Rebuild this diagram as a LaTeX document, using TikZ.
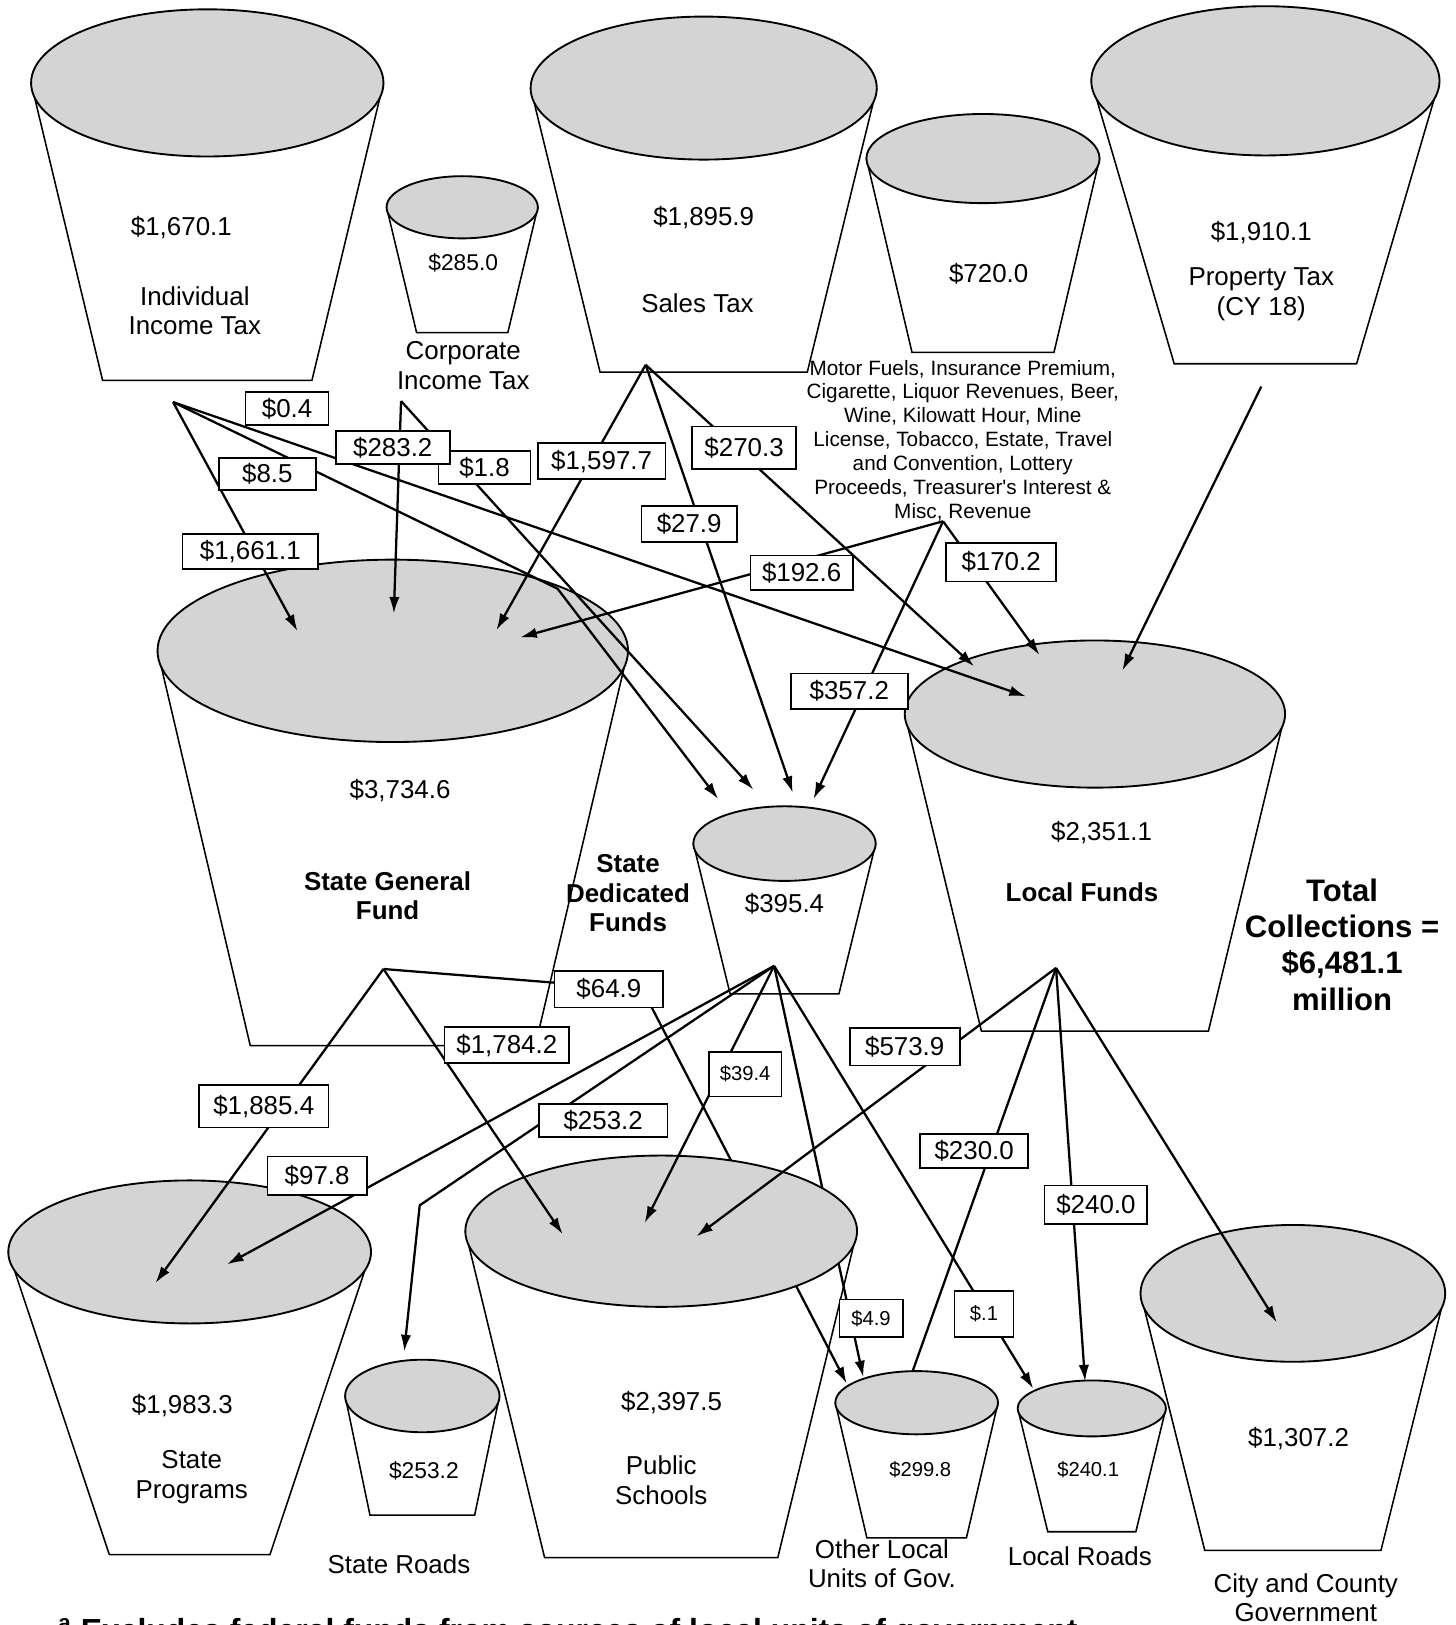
\documentclass[tikz,border=0pt]{standalone}
\usepackage{fontspec}
\setmainfont{Liberation Sans}
\usetikzlibrary{arrows.meta,shapes.geometric}
\definecolor{cupgray}{RGB}{212,212,212}
\tikzset{
  cupside/.style={line width=0.75pt},
  cuptop/.style={ellipse, draw, line width=0.9pt, fill=cupgray, inner sep=0pt, outer sep=0pt},
  conn/.style={line width=1.1pt},
  arr/.style={conn, -{Latex[length=8pt,width=5pt]}},
  lbl/.style={draw, fill=white, line width=0.8pt, inner sep=0pt, font=\fontsize{12.5}{14}\selectfont},
  slbl/.style={lbl, font=\fontsize{9.75}{11}\selectfont},
  txt/.style={font=\fontsize{12.5}{14.25}\selectfont, align=center, inner sep=0pt},
  mtxt/.style={font=\fontsize{11}{13}\selectfont, inner sep=0pt},
  stxt/.style={font=\fontsize{9.75}{11}\selectfont, inner sep=0pt},
  ftxt/.style={font=\fontsize{10}{11.5}\selectfont, align=center, inner sep=0pt},
  btxt/.style={font=\bfseries\fontsize{12.5}{14.25}\selectfont, align=center, inner sep=0pt},
  ttxt/.style={font=\bfseries\fontsize{15}{17.5}\selectfont, align=center, inner sep=0pt},
}
\newcommand{\drawcup}[7]{%
  \draw[cupside] ({#2-#4},#3) -- ({#2-#7},#6) -- ({#2+#7},#6) -- ({#2+#4},#3);
  \node[cuptop, minimum width=#4pt, minimum height=#5pt] (#1) at (#2,#3) {};
}
\begin{document}
\begin{tikzpicture}[x=0.5pt,y=-0.5pt]
\useasboundingbox[fill=white] (0,0) rectangle (1404,1568);

% ---------- source buckets ----------
\drawcup{ii}{200}{80}{170}{71}{367}{101}
\drawcup{ci}{446}{200}{73}{30}{321}{44}
\drawcup{st}{679}{85}{167}{69}{359}{100}
\drawcup{mf}{948.5}{153}{112.5}{43}{340}{68.5}
\drawcup{pt}{1221}{78}{168}{72}{351}{88}
% ---------- fund buckets ----------
\drawcup{sgf}{379}{628}{227}{88}{1009}{137.5}
\drawcup{sdf}{757}{814}{88}{36}{959}{52.5}
\drawcup{lf}{1056.5}{689}{183.5}{71}{995}{109.5}

% texts of upper and middle buckets
\node[txt] (v1) at (175,220) {\$1,670.1};
\node[txt] (n1) at (188,300) {Individual\\Income Tax};
\node[mtxt] (v2) at (447,254) {\$285.0};
\node[txt] (n2) at (447,352.5) {Corporate\\Income Tax};
\node[txt] (v3) at (679,210) {\$1,895.9};
\node[txt] (n3) at (673,293) {Sales Tax};
\node[txt] (v4) at (954,264) {\$720.0};
\node[ftxt] (n4) at (929,425) {Motor Fuels, Insurance Premium,\\Cigarette, Liquor Revenues, Beer,\\Wine, Kilowatt Hour, Mine\\License, Tobacco, Estate, Travel\\and Convention, Lottery\\Proceeds, Treasurer\textquotesingle s Interest \&\\Misc, Revenue};
\node[txt] (v5) at (1217,224) {\$1,910.1};
\node[txt] (n5) at (1217,284) {Property Tax\\(CY 18)};
\node[txt] (v6) at (386,763) {\$3,734.6};
\node[btxt] (n6) at (374,864.5) {State General\\Fund};
\node[btxt] (n7) at (606,862) {State\\Dedicated\\Funds};
\node[txt] (v7) at (757,872) {\$395.4};
\node[txt] (v8) at (1063,803) {\$2,351.1};
\node[btxt] (n8) at (1044,861) {Local Funds};
\node[ttxt] (tot) at (1295,911.5) {Total\\Collections =\\\$6,481.1\\million};

% ---------- points ----------
\coordinate (S1) at (167,388);
\coordinate (S2) at (387,387);
\coordinate (S3) at (623,352);
\coordinate (S4) at (910,503);
\coordinate (S5) at (1217,373);
\coordinate (S6) at (370,935);
\coordinate (S7) at (747,932);
\coordinate (S8) at (1019,934);

\coordinate (t16611) at (287,609);
\coordinate (t2832) at (380,592);
\coordinate (t15977) at (479,608);
\coordinate (t1926) at (502,615);
\coordinate (b85) at (538,568);
\coordinate (t85) at (693,771);
\coordinate (t18) at (727,762);
\coordinate (t279) at (765,765);
\coordinate (t3572) at (785,771);
\coordinate (t04) at (990,672);
\coordinate (t2703) at (940,643);
\coordinate (t1702) at (1003,632);
\coordinate (tprop) at (1083,647);

\coordinate (t18854) at (150,1238);
\coordinate (t978) at (219,1220);
\coordinate (bSR) at (405,1163);
\coordinate (tSR) at (390,1304);
\coordinate (t17842) at (543,1191);
\coordinate (t394) at (622,1180);
\coordinate (t5739) at (672,1193);
\coordinate (b649) at (620,955);
\coordinate (t649) at (817,1335);
\coordinate (t49) at (833,1329);
\coordinate (t01) at (997,1340);
\coordinate (t2400) at (1047,1333);
\coordinate (e2300) at (881,1322);
\coordinate (tcity) at (1232,1276);

% ---------- upper connectors ----------
\draw[arr] (S1) -- (t16611);
\draw[arr] (S1) -- (b85) -- (t85);
\draw[arr] (S1) -- (t04);
\draw[arr] (S2) -- (t2832);
\draw[arr] (S2) -- (t18);
\draw[arr] (S3) -- (t15977);
\draw[arr] (S3) -- (t279);
\draw[arr] (S3) -- (t2703);
\draw[arr] (S4) -- (t1926);
\draw[arr] (S4) -- (t3572);
\draw[arr] (S4) -- (t1702);
\draw[arr] (S5) -- (tprop);

% upper labels
\node[lbl, minimum width=40pt, minimum height=16pt] (l04) at (277,394) {\$0.4};
\node[lbl, minimum width=47pt, minimum height=15.5pt] (l85) at (258,457.5) {\$8.5};
\node[lbl, minimum width=44.5pt, minimum height=16pt] (l18) at (467.5,451) {\$1.8};
\node[lbl, minimum width=55pt, minimum height=16pt] (l2832) at (379,432) {\$283.2};
\node[lbl, minimum width=61.5pt, minimum height=17.5pt] (l15977) at (580.5,445) {\$1,597.7};
\node[lbl, minimum width=50pt, minimum height=20.5pt] (l2703) at (718,432) {\$270.3};
\node[lbl, minimum width=46pt, minimum height=17.5pt] (l279) at (665,505.5) {\$27.9};
\node[lbl, minimum width=65.5pt, minimum height=17pt] (l16611) at (241.5,532) {\$1,661.1};
\node[lbl, minimum width=49.5pt, minimum height=16.5pt] (l1926) at (773.5,552.5) {\$192.6};
\node[lbl, minimum width=53pt, minimum height=18.5pt] (l1702) at (966,542.5) {\$170.2};
\node[lbl, minimum width=56.5pt, minimum height=17pt] (l3572) at (819.5,667) {\$357.2};

% ---------- lower buckets (Public Schools later) ----------
\drawcup{sp}{183}{1208}{175}{69}{1500}{77.5}
\drawcup{sr}{407.5}{1347}{74.5}{35}{1462}{50.5}
\drawcup{ol}{884.5}{1353.5}{78.5}{30.5}{1484}{48}
\drawcup{lr}{1053.5}{1359}{71.5}{27}{1478}{42.5}
\drawcup{cc}{1247.5}{1248}{147}{66}{1496}{85}

% connectors passing behind the Public Schools top
\draw[arr] (S6) -- (b649) -- (t649);
\draw[arr] (S7) -- (t49);

\drawcup{ps}{638}{1188}{189}{73}{1503}{112.5}

% ---------- lower connectors ----------
\draw[arr] (S6) -- (t18854);
\draw[arr] (S6) -- (t17842);
\draw[arr] (S7) -- (t978);
\draw[arr] (S7) -- (bSR) -- (tSR);
\draw[arr] (S7) -- (t394);
\draw[arr] (S7) -- (t01);
\draw[arr] (S8) -- (t5739);
\draw[conn] (S8) -- (e2300);
\draw[arr] (S8) -- (t2400);
\draw[arr] (S8) -- (tcity);

% lower labels
\node[lbl, minimum width=52.5pt, minimum height=17.5pt] (l649) at (587.5,954.5) {\$64.9};
\node[lbl, minimum width=60pt, minimum height=17.5pt] (l17842) at (489,1008.5) {\$1,784.2};
\node[lbl, minimum width=62.5pt, minimum height=20.5pt] (l18854) at (254.5,1067.5) {\$1,885.4};
\node[lbl, minimum width=62pt, minimum height=16pt] (l2532) at (582,1081) {\$253.2};
\node[lbl, minimum width=48pt, minimum height=18.5pt] (l978) at (306,1134.5) {\$97.8};
\node[slbl, minimum width=35pt, minimum height=21.5pt] (l394) at (719,1036.5) {\$39.4};
\node[lbl, minimum width=53pt, minimum height=18pt] (l5739) at (873,1010) {\$573.9};
\node[lbl, minimum width=52pt, minimum height=16.5pt] (l2300) at (940,1110.5) {\$230.0};
\node[lbl, minimum width=49.5pt, minimum height=18.5pt] (l2400) at (1057.5,1162.5) {\$240.0};
\node[slbl, minimum width=30.5pt, minimum height=18pt] (l49) at (840.5,1272) {\$4.9};
\node[slbl, minimum width=28.5pt, minimum height=22pt] (l01) at (949.5,1268) {\$.1};

% texts of lower buckets
\node[txt] (v9) at (176,1356) {\$1,983.3};
\node[txt] (n9) at (185,1425.5) {State\\Programs};
\node[mtxt] (v10) at (409,1419) {\$253.2};
\node[txt] (n10) at (385,1509) {State Roads};
\node[txt] (v11) at (648,1353) {\$2,397.5};
\node[txt] (n11) at (638,1428.5) {Public\\Schools};
\node[stxt] (v12) at (888,1418) {\$299.8};
\node[txt] (n12) at (851,1509) {Other Local\\Units of Gov.};
\node[stxt] (v13) at (1050,1418) {\$240.1};
\node[txt] (n13) at (1042,1502) {Local Roads};
\node[txt] (v14) at (1253,1388) {\$1,307.2};
\node[txt] (n14) at (1260,1541.5) {City and County\\Government};

% footnote, cut by the lower edge as in the reference
\node[anchor=base west, font=\bfseries\fontsize{15.4}{18}\selectfont, inner sep=0pt] (fn) at (56,1584) {\textsuperscript{a} Excludes federal funds from sources of local units of government};
\end{tikzpicture}
\end{document}
